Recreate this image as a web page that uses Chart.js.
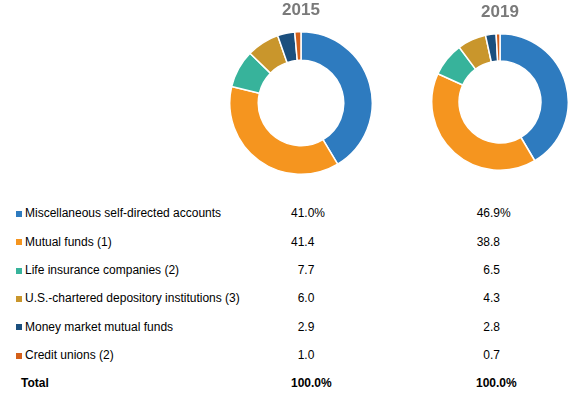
<!DOCTYPE html>
<html>
<head>
<meta charset="utf-8">
<script src="https://cdn.jsdelivr.net/npm/chart.js@4"></script>
<style>
  html,body{margin:0;padding:0;background:#fff;}
  body{width:575px;height:397px;position:relative;overflow:hidden;font-family:"Liberation Sans",Arial,sans-serif;color:#000;}
  .pie{position:absolute;}
  .row{position:absolute;left:0;width:575px;height:14px;line-height:14px;font-size:12px;}
  .row span{position:absolute;top:0;white-space:pre;}
  .sw{width:6px;height:6px;top:4.5px !important;left:16px;}
  .total{font-weight:bold;}
</style>
</head>
<body>
<div class="pie" id="box2015" style="left:229px;top:0;width:144px;height:175px"><canvas id="pie2015"></canvas></div>
<div class="pie" id="box2019" style="left:430.5px;top:0;width:138px;height:171px"><canvas id="pie2019"></canvas></div>
<div id="table"></div>

<script>
/* holdings by institution – two doughnuts + table */

const categories = [
  'Miscellaneous self-directed accounts',
  'Mutual funds (1)',
  'Life insurance companies (2)',
  'U.S.-chartered depository institutions (3)',
  'Money market mutual funds',
  'Credit unions (2)'
];
const years = ['2015', '2019'];

const slices2015 = [41.4, 37.3, 8.6, 7.4, 3.9, 1.4];
const slices2019 = [41.5, 40.3, 8.0, 6.8, 2.5, 0.9];

// table values as printed
const table2015 = ['41.0%', '41.4', '7.7', '6.0', '2.9', '1.0'];
const table2019 = ['46.9%', '38.8', '6.5', '4.3', '2.8', '0.7'];
const totalLabel = 'Total';
const totals = ['100.0%', '100.0%'];

const palette = ['#2e7bbf', '#f5951f', '#37b39b', '#c9962c', '#1b4f7e', '#d4601a'];

const el = sel => document.querySelector(sel);

function makeDoughnut(id, title, data, pad){
  return new Chart(el(id), {
    type: 'doughnut',
    data: { labels: categories, datasets: [{
      data, backgroundColor: palette, borderColor: '#fff', borderWidth: 1.5
    }]},
    options: {
      responsive: true,
      maintainAspectRatio: false,
      animation: false,
      cutout: '60%',
      layout: { padding: 0 },
      plugins: {
        legend: { display: false },
        tooltip: { enabled: false },
        title: {
          display: true, text: title, color: '#7a7a7a',
          font: { family: '"Liberation Sans", Arial, sans-serif', size: 17, weight: 'bold' },
          padding: pad
        }
      }
    }
  });
}

makeDoughnut('#pie2015', years[0], slices2015, { top: 0, bottom: 10.6 });
makeDoughnut('#pie2019', years[1], slices2019, { top: 2.3, bottom: 10.3 });

// table under the rings
const rowY0 = 213.3, rowStep = 28.35;
const dec2015 = 304.3, dec2019 = 490;

function valueCell(v, decX){
  const i = v.indexOf('.');
  const intPart = v.slice(0, i), rest = v.slice(i);
  return `<span style="right:${575 - decX}px">${intPart}</span><span style="left:${decX}px">${rest}</span>`;
}

let html = '';
categories.forEach((c, k) => {
  const top = rowY0 + k * rowStep - 7;
  html += `<div class="row" style="top:${top}px">`
    + `<span class="sw" style="background:${palette[k]}"></span>`
    + `<span style="left:25px">${c}</span>`
    + valueCell(table2015[k], dec2015)
    + valueCell(table2019[k], dec2019)
    + `</div>`;
});
const totTop = rowY0 + categories.length * rowStep - 7;
html += `<div class="row total" style="top:${totTop}px">`
  + `<span style="left:21px">${totalLabel}</span>`
  + `<span style="left:291px">${totals[0]}</span>`
  + `<span style="left:476px">${totals[1]}</span>`
  + `</div>`;
el('#table').innerHTML = html;
</script>
</body>
</html>
